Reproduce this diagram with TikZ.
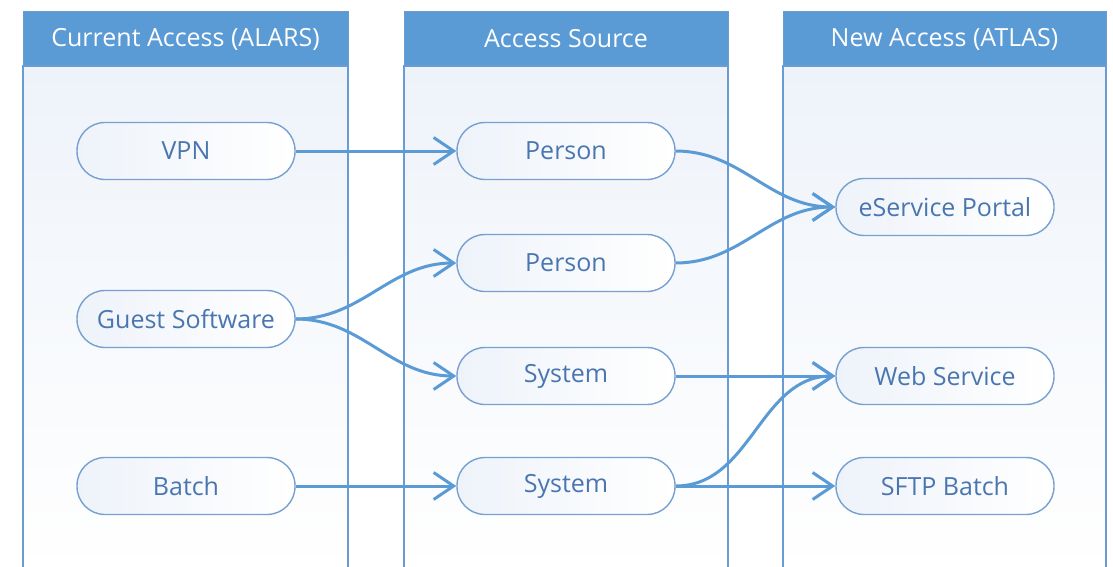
\documentclass[tikz,border=0pt]{standalone}
\usepackage{fontspec}
\setmainfont{Open Sans}
\usetikzlibrary{arrows.meta}
\definecolor{hdr}{RGB}{91,155,213}
\definecolor{lanebd}{RGB}{106,155,210}
\definecolor{nodebd}{RGB}{118,160,208}
\definecolor{ntext}{RGB}{74,118,176}
\definecolor{conn}{RGB}{91,155,213}
\definecolor{lanebg}{RGB}{238,243,250}
\tikzset{
  lanebody/.style={draw=lanebd, line width=1.6pt, top color=lanebg, bottom color=white},
  lanehead/.style={fill=hdr, draw=lanebd, line width=1pt, minimum width=325pt, minimum height=54pt, inner sep=0pt, text=white, font=\fontsize{25}{28}\selectfont},
  item/.style={draw=nodebd, line width=1.4pt, rounded corners=28pt, left color=lanebg, right color=white, minimum width=218pt, minimum height=57pt, inner sep=0pt, text=ntext, font=\fontsize{25}{28}\selectfont},
  conn/.style={draw=conn, line width=3pt, -{Straight Barb[length=20pt,width=27pt]}}
}
\begin{document}
\begin{tikzpicture}[x=1pt,y=-1pt]
\useasboundingbox (0,0) rectangle (1113,567);
% lanes
\path[lanebody] (23,66) rectangle (348,575);
\path[lanebody] (404,66) rectangle (728,575);
\path[lanebody] (783,66) rectangle (1106,575);
\node[lanehead] (h1) at (185.5,39) {Current Access (ALARS)};
\node[lanehead, minimum width=324pt] (h2) at (566,39) {Access Source};
\node[lanehead, minimum width=323pt] (h3) at (944.5,39) {New Access (ATLAS)};
% items
\node[item] (vpn) at (186,151) {VPN};
\node[item] (guest) at (186,319) {Guest Software};
\node[item] (batch) at (186,486) {Batch};
\node[item] (p1) at (566,151) {Person};
\node[item] (p2) at (566,263) {Person};
\node[item] (s1) at (566,376) {System};
\node[item] (s2) at (566,486) {System};
\node[item] (esp) at (945,207) {eService Portal};
\node[item] (web) at (945,376) {Web Service};
\node[item] (sftp) at (945,486) {SFTP Batch};
% connectors
\draw[conn] (vpn.east) -- (p1.west);
\draw[conn] (batch.east) -- (s2.west);
\draw[conn] (guest.east) to[out=0,in=180] (p2.west);
\draw[conn] (guest.east) to[out=0,in=180] (s1.west);
\draw[conn] (p1.east) to[out=0,in=180] (esp.west);
\draw[conn] (p2.east) to[out=0,in=180] (esp.west);
\draw[conn] (s1.east) -- (web.west);
\draw[conn] (s2.east) to[out=0,in=180] (web.west);
\draw[conn] (s2.east) -- (sftp.west);
\end{tikzpicture}
\end{document}
